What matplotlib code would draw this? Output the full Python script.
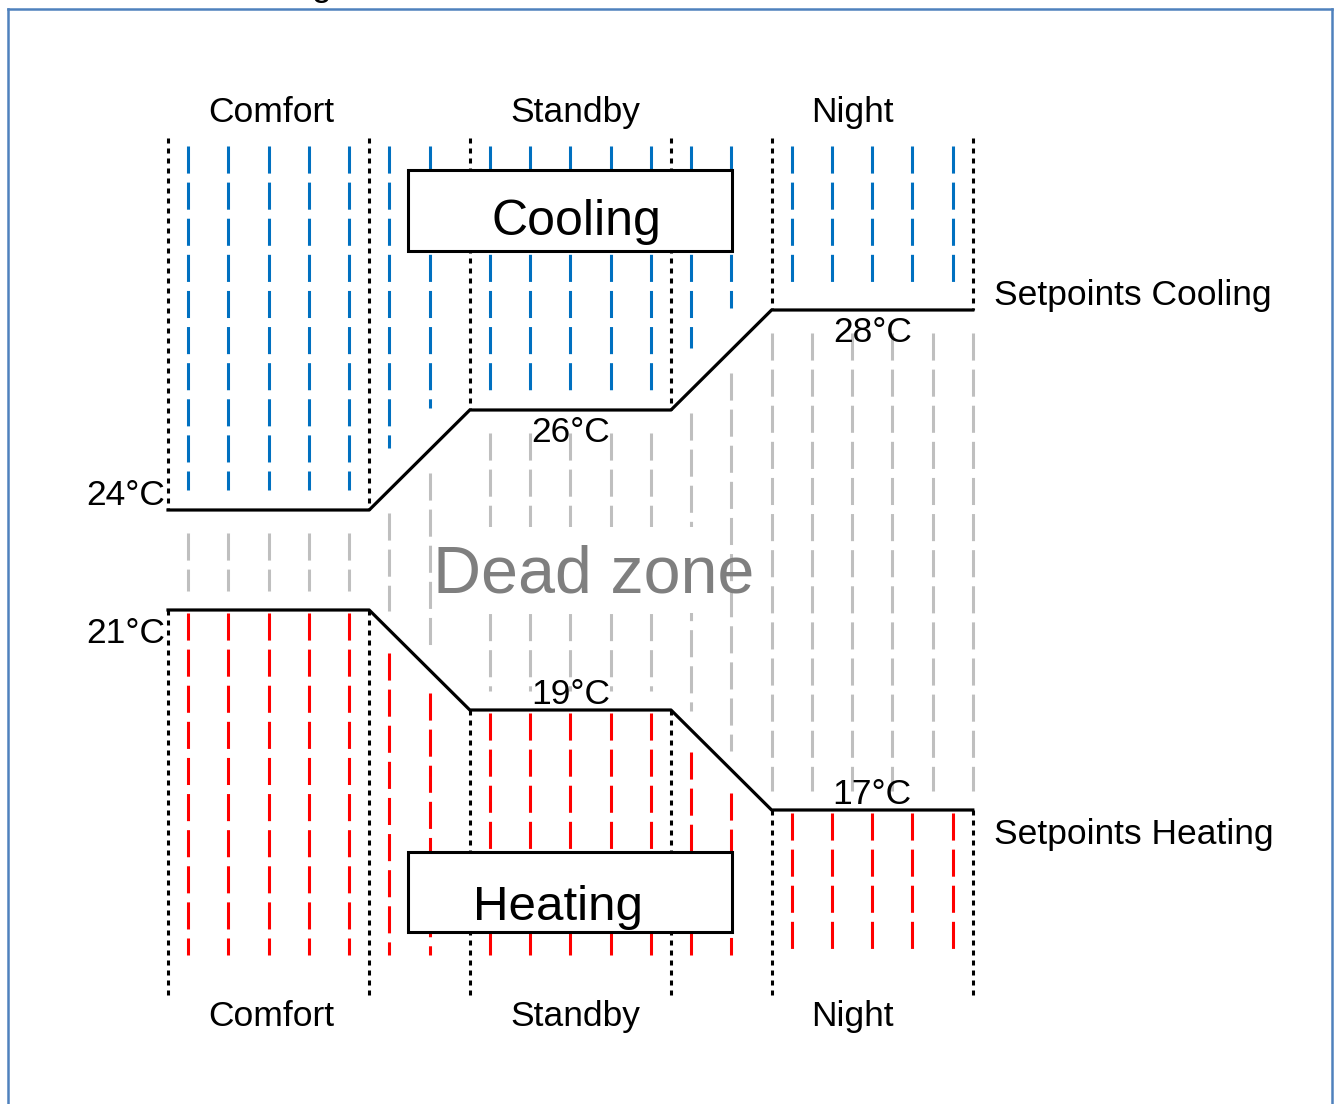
"""
Setpoints cooling / heating per operating mode (schematic)
"""

import numpy as np
import matplotlib.pyplot as plt
from matplotlib.patches import Rectangle
from matplotlib.lines import Line2D

plt.rcParams['font.family'] = ['Liberation Sans', 'DejaVu Sans']
plt.rcParams['lines.scale_dashes'] = False

# 0. Data
modes = ["Comfort", "Standby", "Night"]
cooling_sp = [24, 26, 28]   # °C
heating_sp = [21, 19, 17]   # °C

# 1. Layout (schematic, dead zone drawn compressed)
PLATEAU = 2.0        # width of one mode plateau
RAMP = 1.0           # width of the transition between modes
HEAT_SHIFT = 1.0     # heating curve drawn 1 K higher -> not to scale
X_PX, Y_PX = 100.6, 50.0   # pixels per unit
X0_PX, Y24_PX = 168, 510   # where x=0 / 24°C sit on the canvas

BLUE = "#0070C0"
RED = "#FF0000"
GREY = "#BFBFBF"
LW = 2.2
DASH = (0, (19.5, 6.5))
DOT = (0, (3.6, 3.6))

starts = np.arange(len(modes)) * (PLATEAU + RAMP)
ends = starts + PLATEAU
bx = np.ravel(np.column_stack([starts, ends]))        # 0,2,3,5,6,8
cool_y = np.repeat(cooling_sp, 2).astype(float)
heat_y = np.repeat(heating_sp, 2) + HEAT_SHIFT

def cool_at(x):
    return np.interp(x, bx, cool_y)

def heat_at(x):
    return np.interp(x, bx, heat_y)

W, H = 1339, 1104
fig = plt.figure(figsize=(W / 100, H / 100), dpi=100)
ax = fig.add_axes([0, 0, 1, 1])
ax.set_xlim(-X0_PX / X_PX, (W - X0_PX) / X_PX)
ax.set_ylim(24 - (H - Y24_PX) / Y_PX, 24 + Y24_PX / Y_PX)
ax.axis('off')

TOP_HATCH, BOT_HATCH = 31.28, 15.1
TOP_DOT, BOT_DOT = 31.44, 14.3

# 2. Hatching: blue above cooling, grey in dead zone, red below heating
segments = list(zip(bx[:-1], bx[1:]))
for k, (s, e) in enumerate(segments):
    xs = np.arange(s + 0.2, e - 1e-6, 0.4)
    ramp = (k % 2 == 1)
    for x in xs:
        ax.plot([x, x], [TOP_HATCH, cool_at(x) + (0.85 if ramp else 0.4)],
                color=BLUE, lw=LW, ls=DASH, zorder=1)
        ax.plot([x, x], [heat_at(x) - (0.45 if ramp else 0.05), BOT_HATCH],
                color=RED, lw=LW, ls=DASH, zorder=1)
    # night: grey hatch sits on the grid edges
    gx = np.arange(s, e + 1e-6, 0.4) if k == len(segments) - 1 else xs
    for x in gx:
        ax.plot([x, x], [cool_at(x) - 0.45, heat_at(x) + 0.38],
                color=GREY, lw=LW, ls=DASH, zorder=1)

# mode boundaries (dotted), not inside the dead zone
for b in bx:
    ax.plot([b, b], [TOP_DOT, cool_at(b)], color='black', lw=LW, ls=DOT, zorder=2)
    ax.plot([b, b], [heat_at(b), BOT_DOT], color='black', lw=LW, ls=DOT, zorder=2)

# setpoint curves
ax.plot(bx, cool_y, color='black', lw=2.3, zorder=4)
ax.plot(bx, heat_y, color='black', lw=2.3, zorder=4)

# 3. Labels
FS = 25.5
mode_dx = [0.03, 0.05, -0.2]
for i, m in enumerate(modes):
    mx = (starts[i] + ends[i]) / 2 + mode_dx[i]
    ax.text(mx, 31.76, m, fontsize=FS, ha='center', va='baseline')
    ax.text(mx, 13.68, m, fontsize=FS, ha='center', va='baseline')

for i in range(len(modes)):
    if i == 0:
        ax.text(starts[0] - 0.03, cooling_sp[0] + 0.1, f"{cooling_sp[0]}°C",
                fontsize=FS, ha='right', va='baseline')
        ax.text(starts[0] - 0.03, heating_sp[0] + HEAT_SHIFT - 0.66, f"{heating_sp[0]}°C",
                fontsize=FS, ha='right', va='baseline')
    else:
        mx = (starts[i] + ends[i]) / 2
        ax.text(mx, cooling_sp[i] - 0.65, f"{cooling_sp[i]}°C",
                fontsize=FS, ha='center', va='baseline', zorder=5)
        ax.text(mx, heating_sp[i] + HEAT_SHIFT + 0.13, f"{heating_sp[i]}°C",
                fontsize=FS, ha='center', va='baseline', zorder=5)

ax.text(ends[-1] + 0.21, cooling_sp[-1] + 0.1, "Setpoints Cooling",
        fontsize=FS, ha='left', va='baseline')
ax.text(ends[-1] + 0.21, heating_sp[-1] + HEAT_SHIFT - 0.68, "Setpoints Heating",
        fontsize=FS, ha='left', va='baseline')

# Cooling / Heating boxes
for (y0, y1, tx, ty, label, fs) in [(29.18, 30.8, 4.056, 29.5, "Cooling", 36),
                                     (15.56, 17.16, 3.877, 15.8, "Heating", 35.5)]:
    ax.add_patch(Rectangle((2.39, y0), 3.22, y1 - y0, facecolor='white',
                           edgecolor='black', lw=2.2, zorder=6))
    ax.text(tx, ty, label, fontsize=fs, ha='center', va='baseline', zorder=7)

# Dead zone label on a white patch
ax.add_patch(Rectangle((2.65, 21.94), 2.8, 1.72, facecolor='white',
                       edgecolor='none', zorder=2.5))
ax.text(4.235, 22.36, "Dead zone", fontsize=47.8, color="#7F7F7F",
        ha='center', va='baseline', zorder=3)

# caption fragment cut at the top edge (as in the source page)
ax.text(1.52, 34.28, "g", fontsize=FS, ha='center', va='baseline', clip_on=False)

# page frame
fc = "#4F81BD"
fx0, fx1, fy = 8 / W, 1332 / W, 1 - 9 / H
for xd, yd in [([fx0, fx0], [0, fy]), ([fx0, fx1], [fy, fy]), ([fx1, fx1], [fy, 0])]:
    fig.add_artist(Line2D(xd, yd, color=fc, lw=1.8, transform=fig.transFigure))

plt.savefig("out.png", dpi=100)
plt.close()
